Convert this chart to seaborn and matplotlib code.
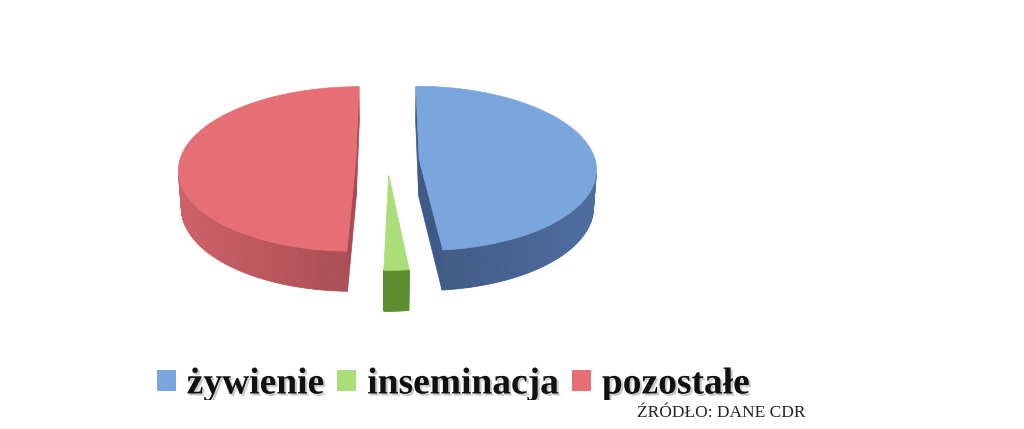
import numpy as np
import matplotlib
matplotlib.use("Agg")
import matplotlib.pyplot as plt
import matplotlib.patheffects as pe
from matplotlib.patches import Polygon, Patch
from matplotlib.transforms import Bbox, TransformedBbox
import seaborn as sns

# ---- data ----
categories = ["żywienie", "inseminacja", "pozostałe"]
values = [48.4, 2.0, 49.6]
top_colors = ["#7BA5DD", "#A9DE78", "#E66F76"]
side_colors = ["#4C6A9C", "#6FA63A", "#C95E65"]
cut_colors = ["#3F5A88", "#5E9030", "#A84B52"]
source_text = "ŹRÓDŁO: DANE CDR"

sns.set_theme(style="white")
plt.rcParams["font.family"] = ["Liberation Serif", "DejaVu Serif"]

W, H = 1024, 429
fig = plt.figure(figsize=(W / 100, H / 100), dpi=100)
ax = fig.add_axes([0, 0, 1, 1])
ax.set_xlim(0, W)
ax.set_ylim(H, 0)
ax.axis("off")

# ---- simple perspective camera for the 3-D pie ----
phi = np.deg2rad(27.5)
D = 8.0
K = 176 * D
h = 0.24
explode = 0.18
cx, cy = 387.5, 160.0
cam = np.array([0.0, -D * np.cos(phi), D * np.sin(phi)])
fwd = np.array([0.0, np.cos(phi), -np.sin(phi)])
up = np.array([0.0, np.sin(phi), np.cos(phi)])


def proj(P):
    P = np.asarray(P, dtype=float)
    w = (P - cam) @ fwd
    return (cx + K * P[0] / w, cy - K * (P @ up) / w)


def shade(hexcol, f):
    c = np.array(matplotlib.colors.to_rgb(hexcol))
    return tuple(np.clip(c * f, 0, 1))


total = float(sum(values))
start = np.pi / 2
slices = []
for i, v in enumerate(values):
    span = 2 * np.pi * v / total
    a0, a1 = start - span, start
    mid = (a0 + a1) / 2
    o = np.array([explode * np.cos(mid), explode * np.sin(mid), 0.0])
    slices.append((i, a0, a1, o))
    start = a0

# back-to-front drawing order
slices.sort(key=lambda s: -(s[3][1]))

for i, a0, a1, o in slices:
    tc, sc, cc = top_colors[i], side_colors[i], cut_colors[i]
    zt, zb = np.array([0, 0, 0.0]), np.array([0, 0, -h])
    # radial cut faces
    for a, n in ((a0, np.array([np.sin(a0), -np.cos(a0), 0])),
                 (a1, np.array([-np.sin(a1), np.cos(a1), 0]))):
        e = o + np.array([np.cos(a), np.sin(a), 0])
        if n @ (cam - (o + e) / 2) <= 0:
            continue
        quad = [proj(o + zt), proj(e + zt), proj(e + zb), proj(o + zb)]
        ax.add_patch(Polygon(quad, closed=True, facecolor=cc,
                             edgecolor=cc, linewidth=0.5, zorder=2))
    # outer wall
    ts = np.linspace(a0, a1, 160)
    for k in range(len(ts) - 1):
        t1, t2 = ts[k], ts[k + 1]
        tm = (t1 + t2) / 2
        n = np.array([np.cos(tm), np.sin(tm), 0])
        pm = o + n
        if n @ (cam - pm) <= 0:
            continue
        f = 0.84 + 0.2 * abs(np.cos(tm))
        p1 = o + np.array([np.cos(t1), np.sin(t1), 0])
        p2 = o + np.array([np.cos(t2), np.sin(t2), 0])
        poly = [proj(p1), proj(p2), proj(p2 + zb), proj(p1 + zb)]
        col = shade(sc, f)
        ax.add_patch(Polygon(poly, closed=True, facecolor=col,
                             edgecolor=col, linewidth=0.6, zorder=3))
    # top face
    arc = [proj(o + np.array([np.cos(t), np.sin(t), 0])) for t in np.linspace(a0, a1, 240)]
    ax.add_patch(Polygon([proj(o)] + arc, closed=True, facecolor=tc,
                         edgecolor=tc, linewidth=0.5, zorder=4))

# ---- legend ----
handles = [Patch(facecolor=c, edgecolor="none") for c in top_colors]
shadow = [pe.SimplePatchShadow(offset=(1.5, -1.5), shadow_rgbFace="#888888", alpha=0.45),
          pe.Normal()]
leg = fig.legend(handles, categories, loc="center left", ncol=3,
                 bbox_to_anchor=(138 / W, 1 - 384 / H), frameon=False,
                 handlelength=0.51, handleheight=0.48,
                 handletextpad=0.29, columnspacing=0.35, borderpad=0.0,
                 prop={"family": ["Liberation Serif"], "weight": "bold", "size": 27})
clip = TransformedBbox(Bbox([[0, 1 - 400 / H], [1, 1]]), fig.transFigure)
for t in leg.get_texts():
    t.set_color("#111111")
    t.set_path_effects(shadow)
    t.set_clip_box(clip)
    t.set_clip_on(True)

fig.text(637 / W, 1 - 417 / H, source_text, fontsize=12.5, color="#222222",
         family=["Liberation Serif", "DejaVu Serif"], va="baseline", ha="left")

fig.savefig("out.png", dpi=100, facecolor="white")
